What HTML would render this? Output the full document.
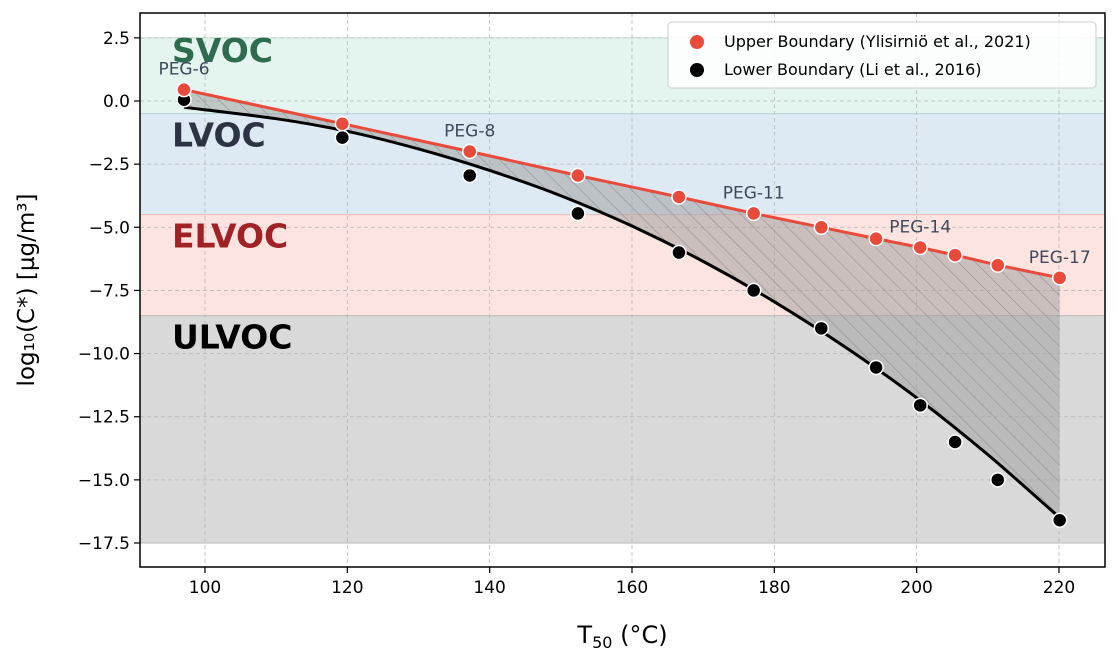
<!DOCTYPE html>
<html><head><meta charset="utf-8"><style>
body{margin:0;background:#fff}
svg{font-family:"DejaVu Sans","Liberation Sans",sans-serif}
</style></head><body>
<svg id="c" width="1118" height="660">
<defs>
<pattern id="hatch" width="12" height="12" patternUnits="userSpaceOnUse" patternTransform="rotate(-45)">
<line x1="0" y1="0" x2="0" y2="12" stroke="#8a8a8a" stroke-width="1"/>
</pattern>
<clipPath id="clip"><rect x="140" y="13" width="965" height="554"/></clipPath>
</defs>
</svg>
<script>
const bandNames=["SVOC","LVOC","ELVOC","ULVOC"];
const bandTop=[2.5,-0.5,-4.5,-8.5];
const bandBottom=[-0.5,-4.5,-8.5,-17.5];
const xVals=[97.05,119.3,137.2,152.4,166.6,177.1,186.6,194.3,200.5,205.4,211.4,220.1];
const upperVals=[0.45,-0.9,-2.0,-2.95,-3.8,-4.45,-5.0,-5.45,-5.8,-6.1,-6.5,-7.0];
const lowerVals=[0.05,-1.45,-2.95,-4.45,-6.0,-7.5,-9.0,-10.55,-12.05,-13.5,-15.0,-16.6];
const fitX=[97.05,110,120,130,140,150,160,170,180,190,200,210,220.1];
const fitY=[-0.25,-0.7,-1.2,-1.9,-2.75,-3.75,-4.95,-6.35,-7.95,-9.75,-11.75,-14.0,-16.5];
const xTicks=[100,120,140,160,180,200,220];
const yTicks=[2.5,0,-2.5,-5,-7.5,-10,-12.5,-15,-17.5];
const pegIdx=[0,2,5,8,11];
const pegLabels=["PEG-6","PEG-8","PEG-11","PEG-14","PEG-17"];
const bandFill=["#e3f5ee","#deeaf3","#fde4e1","#d9d9d9"];
const bandStroke=["#bfe3d4","#b9d3e4","#f2bcb5","#bbbbbb"];
const bandColor=["#2e6b4f","#2c3444","#a02226","#000"];
const bandLabelDy=[24,33,33,33];

const L=140,R=1105,T=13,B=567;
const X=v=>205+(v-100)*7.1165;
const Y=v=>101-v*25.257;
const svg=document.getElementById('c');
const NS="http://www.w3.org/2000/svg";
function mk(t,a,p){const e=document.createElementNS(NS,t);for(const k in a)e.setAttribute(k,a[k]);(p||svg).appendChild(e);return e;}
const g=mk('g',{'clip-path':'url(#clip)'});
bandNames.forEach((n,i)=>{
 const r=mk('rect',{x:L,y:Y(bandTop[i]),width:R-L,height:Y(bandBottom[i])-Y(bandTop[i]),fill:bandFill[i],stroke:bandStroke[i],'stroke-width':1},g);
 
 
});
xTicks.forEach(t=>{mk('line',{x1:X(t),x2:X(t),y1:T,y2:B,stroke:'#b8b8b8','stroke-dasharray':'4,3','stroke-width':0.8},g);});
yTicks.forEach(t=>{mk('line',{x1:L,x2:R,y1:Y(t),y2:Y(t),stroke:'#b8b8b8','stroke-dasharray':'4,3','stroke-width':0.8},g);});
bandNames.forEach((n,i)=>{
 const t=mk('text',{x:172,y:Y(bandTop[i])+bandLabelDy[i],'font-size':33,'font-weight':'bold',fill:bandColor[i]},g);
 t.textContent=n;
 
 
});
let d='M'+xVals.map((x,i)=>X(x)+','+Y(upperVals[i])).join('L');
for(let i=fitX.length-1;i>=0;i--)d+='L'+X(fitX[i])+','+Y(fitY[i]);
d+='Z';
const sh=mk('path',{d:d,fill:'#a0a0a0','fill-opacity':0.55},g);


mk('path',{d:d,fill:'url(#hatch)'},g);
function smooth(xs,ys){let p='M'+X(xs[0])+','+Y(ys[0]);for(let i=0;i<xs.length-1;i++){const p0=i?i-1:i,p3=i+2<xs.length?i+2:i+1;const x0=X(xs[p0]),y0=Y(ys[p0]),x1=X(xs[i]),y1=Y(ys[i]),x2=X(xs[i+1]),y2=Y(ys[i+1]),x3=X(xs[p3]),y3=Y(ys[p3]);p+='C'+(x1+(x2-x0)/6)+','+(y1+(y2-y0)/6)+' '+(x2-(x3-x1)/6)+','+(y2-(y3-y1)/6)+' '+x2+','+y2;}return p;}
const fc=mk('path',{d:smooth(fitX,fitY),fill:'none',stroke:'#000','stroke-width':3},g);


const ul=mk('polyline',{points:xVals.map((x,i)=>X(x)+','+Y(upperVals[i])).join(' '),fill:'none',stroke:'#e84a3b','stroke-width':3},g);


xVals.forEach((x,i)=>{
 const c=mk('circle',{cx:X(x),cy:Y(lowerVals[i]),r:7,fill:'#000',stroke:'#fff','stroke-width':1.5},g);
 
 
});
xVals.forEach((x,i)=>{
 const c=mk('circle',{cx:X(x),cy:Y(upperVals[i]),r:7,fill:'#e84a3b',stroke:'#fff','stroke-width':1.5},g);
 
 
});
pegIdx.forEach((k,j)=>{
 const t=mk('text',{x:X(xVals[k]),y:Y(upperVals[k])-15,'font-size':17,fill:'#3d4a5c','text-anchor':'middle'},g);
 t.textContent=pegLabels[j];
 
 
});
mk('rect',{x:L,y:T,width:R-L,height:B-T,fill:'none',stroke:'#000','stroke-width':1.5});
xTicks.forEach(t=>{
 mk('line',{x1:X(t),x2:X(t),y1:B,y2:B+6,stroke:'#000','stroke-width':1.2});
 const e=mk('text',{x:X(t),y:B+26,'font-size':17,'text-anchor':'middle',fill:'#000'});
 e.textContent=t;
 
 
});
yTicks.forEach(t=>{
 mk('line',{x1:L-6,x2:L,y1:Y(t),y2:Y(t),stroke:'#000','stroke-width':1.2});
 const e=mk('text',{x:L-10,y:Y(t)+6,'font-size':17,'text-anchor':'end',fill:'#000'});
 e.textContent=(t<0?'\u2212'+(-t).toFixed(1):t.toFixed(1));
 
 
});
const xt=mk('text',{x:(L+R)/2,y:643,'font-size':24,'text-anchor':'middle',fill:'#000'});
xt.innerHTML='T<tspan font-size="16" dy="5">50</tspan><tspan dy="-5"> (°C)</tspan>';


const yt=mk('text',{x:0,y:0,'font-size':23,'text-anchor':'middle',fill:'#000',transform:'translate(34,290) rotate(-90)'});
yt.textContent='log₁₀(C*) [µg/m³]';


const lg=mk('g',{});


mk('rect',{x:668,y:22,width:428,height:66,rx:4,fill:'#fff','fill-opacity':0.85,stroke:'#ccc'},lg);
mk('circle',{cx:697,cy:42,r:7,fill:'#e84a3b'},lg);
mk('circle',{cx:697,cy:70,r:7,fill:'#000'},lg);
const l1=mk('text',{x:724,y:47,'font-size':16,fill:'#000'},lg);l1.textContent='Upper Boundary (Ylisirniö et al., 2021)';


const l2=mk('text',{x:724,y:75,'font-size':16,fill:'#000'},lg);l2.textContent='Lower Boundary (Li et al., 2016)';


</script>
</body></html>
